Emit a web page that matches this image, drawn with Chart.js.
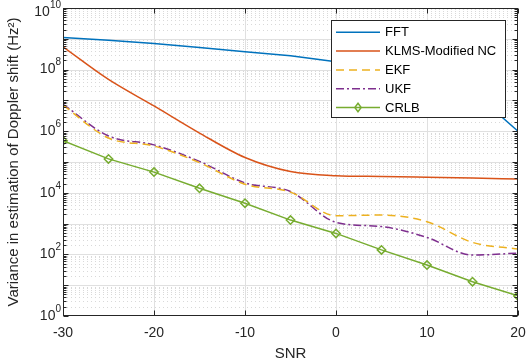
<!DOCTYPE html>
<html>
<head>
<meta charset="utf-8">
<script src="https://cdn.jsdelivr.net/npm/chart.js@4/dist/chart.umd.min.js"></script>
<style>
html,body{margin:0;padding:0;background:#fff;}
canvas{display:block;}
</style>
</head>
<body>
<canvas id="c" width="526" height="361"></canvas>
<script>
const snr = [-30, -25, -20, -15, -10, -5, 0, 5, 10, 15, 20];
const fftVar  = [1.1e9, 9e8, 7e8, 5.2e8, 3.8e8, 2.8e8, 1.8e8, 1.1e8, 6e7, 2e7, 1e6];
const klmsVar = [5.5e8, 4.8e7, 6.6e6, 8.7e5, 1.4e5, 4.9e4, 3.6e4, 3.4e4, 3.2e4, 3.0e4, 2.8e4];
const ekfVar  = [7e6, 6e5, 3.3e5, 9.5e4, 1.9e4, 1.05e4, 1.8e3, 1.9e3, 1.15e3, 245, 150];
const ukfVar  = [7.5e6, 7e5, 3.6e5, 1.05e5, 2.1e4, 1.1e4, 1.1e3, 800, 355, 95, 110];
const crlbVar = [4.9e5, 1.26e5, 4.7e4, 1.4e4, 4.6e3, 1.3e3, 480, 140, 45, 13, 4.5];
const seriesNames = ['FFT', 'KLMS-Modified NC', 'EKF', 'UKF', 'CRLB'];
const xTicks = [-30, -20, -10, 0, 10, 20];
const yDecades = [0, 2, 4, 6, 8, 10];
const xTitle = 'SNR';
const yTitle = 'Variance in estimation of Doppler shift (Hz\u00B2)';

const FONT = '"Liberation Sans", Arial, Helvetica, sans-serif';
const AX = '#262626';

function pts(vals){ return snr.map((x,i)=>({x:x, y:vals[i]})); }

const datasets = [
  {label: seriesNames[0], data: pts(fftVar), borderColor:'#0072BD', borderWidth:1.5, pointRadius:0, tension:0},
  {label: seriesNames[1], data: pts(klmsVar), borderColor:'#D95319', borderWidth:1.5, pointRadius:0, cubicInterpolationMode:'monotone'},
  {label: seriesNames[2], data: pts(ekfVar), borderColor:'#EDB120', borderWidth:1.5, borderDash:[8,5], pointRadius:0, cubicInterpolationMode:'monotone'},
  {label: seriesNames[3], data: pts(ukfVar), borderColor:'#7E2F8E', borderWidth:1.5, borderDash:[8,3,2,3], pointRadius:0, cubicInterpolationMode:'monotone'},
  {label: seriesNames[4], data: pts(crlbVar), borderColor:'#77AC30', borderWidth:1.5, pointStyle:'rectRot', pointRadius:4.2,
   pointBorderWidth:1.5, pointBorderColor:'#77AC30', pointBackgroundColor:'rgba(255,255,255,0)', tension:0}
];

const matlabPlugin = {
  id:'matlab',
  beforeDatasetsDraw(chart){
    const ctx = chart.ctx, ca = chart.chartArea, xs = chart.scales.x, ys = chart.scales.y;
    ctx.save();
    ctx.beginPath(); ctx.rect(ca.left, ca.top, ca.right-ca.left, ca.bottom-ca.top); ctx.clip();
    ctx.strokeStyle = '#d9d9d9'; ctx.lineWidth = 1; ctx.setLineDash([1,3]);
    for (let k=0;k<10;k++){
      for (let m=2;m<=9;m++){
        const y = Math.round(ys.getPixelForValue(m*Math.pow(10,k)))+0.5;
        ctx.beginPath(); ctx.moveTo(ca.left, y); ctx.lineTo(ca.right, y); ctx.stroke();
      }
    }
    ctx.setLineDash([]);
    ctx.strokeStyle = '#e0e0e0';
    for (let k=0;k<=10;k++){
      const y = Math.round(ys.getPixelForValue(Math.pow(10,k)))+0.5;
      ctx.beginPath(); ctx.moveTo(ca.left, y); ctx.lineTo(ca.right, y); ctx.stroke();
    }
    xTicks.forEach(v=>{
      const x = Math.round(xs.getPixelForValue(v))+0.5;
      ctx.beginPath(); ctx.moveTo(x, ca.top); ctx.lineTo(x, ca.bottom); ctx.stroke();
    });
    ctx.restore();
  },
  afterDatasetsDraw(chart){
    const ctx = chart.ctx, ca = chart.chartArea, xs = chart.scales.x, ys = chart.scales.y;
    ctx.save();
    const L = Math.round(ca.left)+0.5, R = Math.round(ca.right)-0.5, T = Math.round(ca.top)+0.5, B = Math.round(ca.bottom)-0.5;
    ctx.strokeStyle = AX; ctx.lineWidth = 1; ctx.setLineDash([]);
    ctx.strokeRect(L, T, R-L, B-T);
    ctx.beginPath();
    for (let k=0;k<10;k++){
      for (let m=2;m<=9;m++){
        const y = Math.round(ys.getPixelForValue(m*Math.pow(10,k)))+0.5;
        ctx.moveTo(L, y); ctx.lineTo(L+3, y);
        ctx.moveTo(R, y); ctx.lineTo(R-3, y);
      }
    }
    for (let k=0;k<=10;k++){
      const y = Math.round(ys.getPixelForValue(Math.pow(10,k)))+0.5;
      ctx.moveTo(L, y); ctx.lineTo(L+5, y);
      ctx.moveTo(R, y); ctx.lineTo(R-5, y);
    }
    xTicks.forEach(v=>{
      const x = Math.round(xs.getPixelForValue(v))+0.5;
      ctx.moveTo(x, B); ctx.lineTo(x, B-5);
      ctx.moveTo(x, T); ctx.lineTo(x, T+5);
    });
    ctx.stroke();
    ctx.fillStyle = AX;
    ctx.textBaseline = 'middle';
    yDecades.forEach(d=>{
      let y = ys.getPixelForValue(Math.pow(10,d));
      if (y < ca.top + 4) y = ca.top + 4;
      const exp = String(d);
      ctx.font = '10px ' + FONT;
      const ew = ctx.measureText(exp).width;
      const right = ca.left - 2;
      ctx.textAlign = 'right';
      ctx.fillText(exp, right, y - 7);
      ctx.font = '14px ' + FONT;
      ctx.fillText('10', right - ew, y);
    });
    ctx.font = '15px ' + FONT;
    ctx.textAlign = 'center'; ctx.textBaseline = 'middle';
    ctx.fillText(xTitle, (ca.left+ca.right)/2, 354);
    ctx.save();
    ctx.translate(14, (ca.top+ca.bottom)/2);
    ctx.rotate(-Math.PI/2);
    ctx.fillText(yTitle, 0, 0);
    ctx.restore();
    const bx = 331.5, by = 20.5, bw = 174, bh = 97;
    ctx.fillStyle = '#fff'; ctx.fillRect(bx, by, bw, bh);
    ctx.strokeStyle = AX; ctx.lineWidth = 1; ctx.strokeRect(bx, by, bw, bh);
    const rowY0 = 32.3, rowH = 18.8;
    chart.data.datasets.forEach((ds, i)=>{
      const y = rowY0 + i*rowH;
      ctx.save();
      ctx.strokeStyle = ds.borderColor; ctx.lineWidth = ds.borderWidth;
      ctx.setLineDash(ds.borderDash || []);
      ctx.beginPath(); ctx.moveTo(336, y); ctx.lineTo(380, y); ctx.stroke();
      ctx.setLineDash([]);
      if (ds.pointStyle === 'rectRot'){
        const r = 4.2, cx = 358;
        ctx.beginPath(); ctx.moveTo(cx, y-r); ctx.lineTo(cx+r*0.75, y); ctx.lineTo(cx, y+r); ctx.lineTo(cx-r*0.75, y); ctx.closePath();
        ctx.stroke();
      }
      ctx.restore();
      ctx.fillStyle = '#000'; ctx.font = '13px ' + FONT;
      ctx.textAlign = 'left'; ctx.textBaseline = 'middle';
      ctx.fillText(ds.label, 385, y + 0.5);
    });
    ctx.restore();
  }
};

new Chart(document.getElementById('c'), {
  type:'line',
  data:{datasets},
  options:{
    responsive:false, animation:false,
    layout:{padding:{top:8, right:8, left:0, bottom:0}},
    plugins:{legend:{display:false}, tooltip:{enabled:false}},
    scales:{
      x:{type:'linear', min:-30, max:20,
         afterBuildTicks(s){ s.ticks = xTicks.map(v=>({value:v})); },
         ticks:{font:{size:14, family:FONT}, color:AX, padding:9, maxRotation:0, callback:v=>String(v)},
         grid:{display:false, drawTicks:false}, border:{display:false},
         afterFit(s){ s.height = 45; s.paddingLeft = 0; s.paddingRight = 0; }},
      y:{type:'logarithmic', min:1, max:1e10,
         ticks:{display:false}, grid:{display:false, drawTicks:false}, border:{display:false},
         afterFit(s){ s.width = 63; s.paddingTop = 0; s.paddingBottom = 0; }}
    }
  },
  plugins:[matlabPlugin]
});
</script>
</body>
</html>
